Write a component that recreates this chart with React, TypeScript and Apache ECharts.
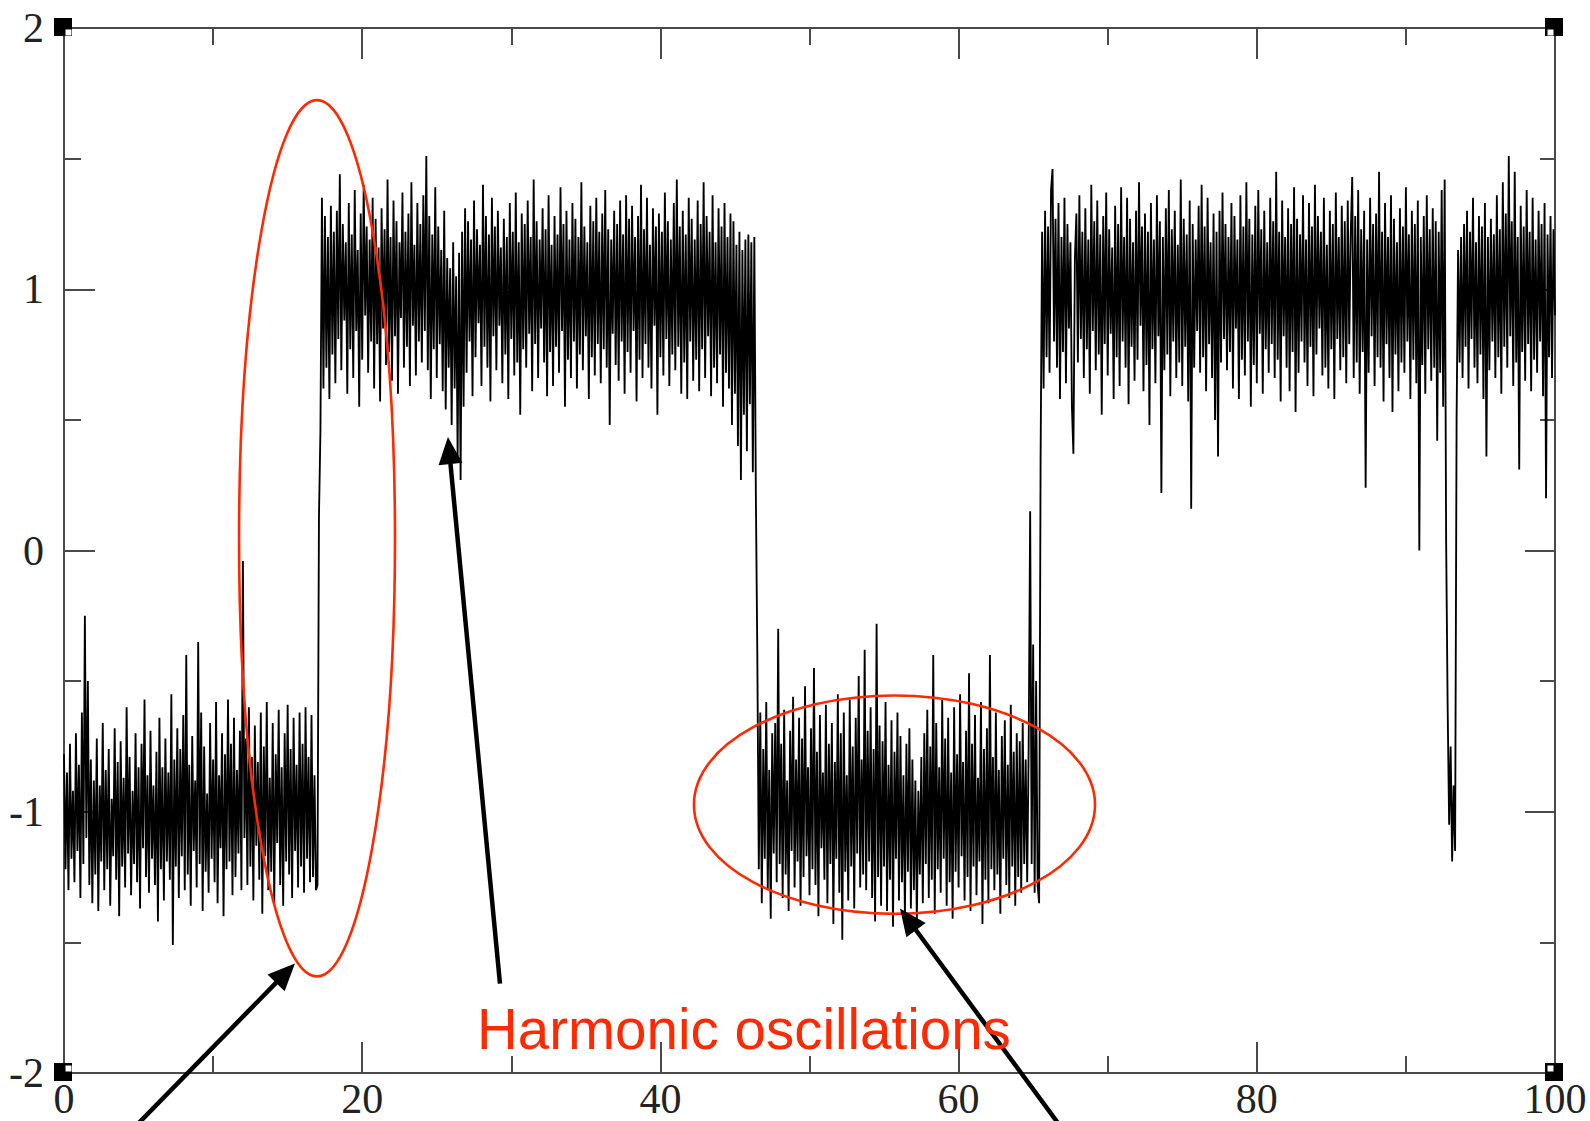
import React, { useEffect, useRef } from "react";
import * as echarts from "echarts";

// ---- data (sampled every 0.1 time units) ----
const SAMPLE_STEP = 0.1;
const segmentStarts = [0, 17.1, 46.5, 65.5, 92.7, 93.5];

const lowStateA = [
  -0.78, -1.22, -0.85, -1.3, -0.74, -1.18, -0.92, -1.27, -0.7, -1.15,
  -0.82, -1.33, -0.62, -1.2, -0.25, -1.1, -0.5, -1.28, -0.8, -1.35,
  -0.88, -1.24, -0.72, -1.38, -0.9, -1.19, -0.66, -1.3, -0.84, -1.22,
  -0.76, -1.36, -0.95, -1.17, -0.68, -1.26, -0.81, -1.4, -0.73, -1.21,
  -0.87, -1.29, -0.6, -1.16, -0.79, -1.32, -0.92, -1.2, -0.7, -1.27,
  -0.83, -1.37, -0.74, -1.14, -0.57, -1.25, -0.86, -1.31, -0.69, -1.18,
  -0.9, -1.28, -0.77, -1.42, -0.64, -1.22, -0.83, -1.34, -0.72, -1.19,
  -0.85, -1.26, -0.55, -1.51, -0.8, -1.21, -0.68, -1.33, -0.76, -1.17,
  -0.63, -1.3, -0.4, -1.24, -0.82, -1.36, -0.71, -1.15, -0.88, -1.29,
  -0.35, -1.2, -0.62, -1.38, -0.75, -1.23, -0.93, -1.31, -0.66, -1.18,
  -0.8, -1.27, -0.58, -1.35, -0.86, -1.14, -0.7, -1.4, -0.78, -1.22,
  -0.57, -1.19, -0.74, -1.32, -0.64, -1.25, -0.84, -1.16, -0.69, -1.3,
  -0.04, -1.1, -0.72, -1.28, -0.6, -1.21, -0.79, -1.34, -0.67, -1.13,
  -0.81, -1.26, -0.62, -1.39, -0.75, -1.17, -0.58, -1.3, -0.87, -1.23,
  -0.66, -1.35, -0.78, -1.12, -0.61, -1.28, -0.83, -1.36, -0.7, -1.19,
  -0.59, -1.24, -0.76, -1.33, -0.64, -1.15, -0.82, -1.29, -0.62, -1.21,
  -0.74, -1.31, -0.6, -1.18, -0.79, -1.27, -0.63, -1.25, -0.86, -1.3,
  -1.28,
];

const highStateA = [
  0.13, 0.46, 1.35, 0.62, 1.28, 0.7, 1.2, 0.58, 1.32,
  0.75, 1.22, 0.64, 1.3, 0.81, 1.44, 0.69, 1.25, 0.88, 1.18,
  0.6, 1.33, 0.77, 1.21, 0.66, 1.38, 0.84, 1.15, 0.55, 1.29,
  0.73, 1.4, 0.9, 1.24, 0.68, 1.19, 0.8, 1.35, 0.62, 1.27,
  0.79, 1.16, 0.57, 1.31, 0.85, 1.23, 0.71, 1.42, 0.76, 1.2,
  0.65, 1.34, 0.82, 1.26, 0.6, 1.18, 0.89, 1.37, 0.7, 1.22,
  0.78, 1.29, 0.63, 1.41, 0.86, 1.17, 0.67, 1.33, 0.8, 1.25,
  0.72, 1.36, 0.84, 1.51, 0.69, 1.28, 0.58, 1.21, 0.77, 1.39,
  0.66, 1.24, 0.79, 1.15, 0.61, 1.3, 0.54, 1.12, 0.7, 1.08,
  0.48, 1.18, 0.62, 1.05, 0.36, 1.14, 0.27, 1.22, 0.55, 1.31,
  0.68, 1.26, 0.8, 1.19, 0.59, 1.34, 0.74, 1.23, 0.87, 1.17,
  0.63, 1.4, 0.78, 1.28, 0.7, 1.21, 0.57, 1.35, 0.82, 1.24,
  0.69, 1.3, 0.86, 1.16, 0.64, 1.27, 0.75, 1.2, 0.58, 1.33,
  0.81, 1.22, 0.67, 1.37, 0.72, 1.18, 0.52, 1.29, 0.77, 1.25,
  0.7, 1.34, 0.83, 1.2, 0.61, 1.42, 0.79, 1.26, 0.66, 1.19,
  0.85, 1.31, 0.72, 1.23, 0.59, 1.36, 0.76, 1.17, 0.63, 1.28,
  0.78, 1.21, 0.68, 1.39, 0.84, 1.25, 0.55, 1.3, 0.73, 1.19,
  0.66, 1.33, 0.8, 1.27, 0.62, 1.2, 0.75, 1.41, 0.69, 1.24,
  0.82, 1.18, 0.58, 1.32, 0.74, 1.26, 0.67, 1.35, 0.79, 1.22,
  0.64, 1.29, 0.77, 1.38, 0.7, 1.23, 0.48, 1.19, 0.83, 1.3,
  0.71, 1.25, 0.65, 1.34, 0.8, 1.21, 0.6, 1.36, 0.76, 1.27,
  0.68, 1.32, 0.84, 1.2, 0.57, 1.28, 0.73, 1.4, 0.66, 1.23,
  0.79, 1.35, 0.7, 1.17, 0.62, 1.31, 0.86, 1.24, 0.52, 1.29,
  0.74, 1.22, 0.67, 1.37, 0.81, 1.26, 0.63, 1.19, 0.75, 1.33,
  0.69, 1.42, 0.78, 1.24, 0.6, 1.3, 0.72, 1.21, 0.58, 1.35,
  0.8, 1.27, 0.65, 1.19, 0.73, 1.34, 0.61, 1.25, 0.77, 1.41,
  0.66, 1.28, 0.82, 1.22, 0.59, 1.36, 0.7, 1.18, 0.64, 1.31,
  0.75, 1.24, 0.55, 1.33, 0.68, 1.2, 0.62, 1.29, 0.48, 1.26,
  0.6, 1.17, 0.4, 1.22, 0.27, 1.15, 0.52, 1.19, 0.38, 1.21,
  0.56, 1.18, 0.3, 1.2, 0.23,
];

const lowStateB = [
  -0.4, -1.22, -0.62, -1.35, -0.76,
  -1.18, -0.58, -1.3, -0.84, -1.41, -0.7, -1.16, -0.66, -1.27, -0.3,
  -1.2, -0.74, -1.33, -0.61, -1.24, -0.88, -1.38, -0.69, -1.15, -0.56,
  -1.29, -0.8, -1.19, -0.64, -1.36, -0.72, -1.25, -0.52, -1.17, -0.83,
  -1.32, -0.68, -1.22, -0.45, -1.28, -0.77, -1.4, -0.63, -1.14, -0.85,
  -1.26, -0.59, -1.35, -0.74, -1.2, -0.66, -1.43, -0.81, -1.18, -0.55,
  -1.31, -0.7, -1.49, -0.62, -1.23, -0.86, -1.34, -0.57, -1.21, -0.75,
  -1.37, -0.64, -1.16, -0.48, -1.29, -0.8, -1.24, -0.38, -1.3, -0.69,
  -1.19, -0.6, -1.33, -0.76, -1.42, -0.28, -1.25, -0.67, -1.36, -0.73,
  -1.21, -0.58, -1.38, -0.82, -1.26, -0.65, -1.44, -0.77, -1.18, -0.62,
  -1.34, -0.71, -1.27, -0.86, -1.4, -0.74, -1.23, -0.68, -1.37, -0.8,
  -1.3, -0.88, -1.42, -0.92, -1.24, -0.79, -1.35, -0.7, -1.2, -0.61,
  -1.33, -0.75, -1.26, -0.4, -1.39, -0.66, -1.22, -0.83, -1.31, -0.57,
  -1.18, -0.72, -1.36, -0.64, -1.27, -0.85, -1.41, -0.6, -1.23, -0.78,
  -1.29, -0.55, -1.17, -0.81, -1.34, -0.69, -1.25, -0.47, -1.38, -0.74,
  -1.21, -0.63, -1.32, -0.87, -1.19, -0.58, -1.43, -0.76, -1.26, -0.68,
  -1.35, -0.4, -1.22, -0.79, -1.3, -0.62, -1.24, -0.84, -1.39, -0.71,
  -1.18, -0.65, -1.28, -0.82, -1.33, -0.59, -1.21, -0.77, -1.36, -0.7,
  -1.25, -0.73, -1.31, -0.66, -1.2, -0.8, -1.27, -0.75, 0.15, -1.2,
  -0.36, -1.31, -0.5, -1.28, -1.35,
];

const highStateB = [
  0.36, 1.22, 0.62, 1.3, 0.74,
  1.24, 0.68, 1.38, 1.46, 0.8, 1.27, 0.7, 1.33, 0.58, 1.2,
  0.76, 1.35, 0.64, 1.25, 0.85, 1.18, 0.55, 0.37, 1.12, 1.29,
  0.72, 1.36, 0.81, 1.22, 0.66, 1.31, 0.77, 1.19, 0.6, 1.4,
  0.84, 1.26, 0.69, 1.34, 0.75, 1.21, 0.52, 1.28, 0.79, 1.37,
  0.67, 1.23, 0.83, 1.16, 0.58, 1.32, 0.74, 1.25, 0.63, 1.39,
  0.8, 1.2, 0.7, 1.35, 0.56, 1.27, 0.78, 1.18, 0.65, 1.3,
  0.73, 1.41, 0.86, 1.24, 0.61, 1.29, 0.71, 1.22, 0.48, 1.33,
  0.77, 1.19, 0.64, 1.36, 0.82, 1.26, 0.22, 1.2, 0.69, 1.31,
  0.75, 1.38, 0.59, 1.23, 0.8, 1.3, 0.66, 1.17, 0.72, 1.42,
  0.63, 1.27, 0.78, 1.21, 0.57, 1.34, 0.16, 1.25, 0.7, 1.19,
  0.84, 1.32, 0.68, 1.4, 0.74, 1.24, 0.61, 1.35, 0.79, 1.18,
  0.66, 1.29, 0.5, 1.22, 0.36, 1.3, 0.72, 1.37, 0.81, 1.25,
  0.69, 1.2, 0.76, 1.33, 0.62, 1.28, 0.85, 1.19, 0.58, 1.36,
  0.73, 1.24, 0.67, 1.41, 0.8, 1.27, 0.55, 1.21, 0.71, 1.32,
  0.64, 1.38, 0.83, 1.23, 0.6, 1.3, 0.77, 1.18, 0.68, 1.35,
  0.79, 1.26, 0.66, 1.45, 0.73, 1.22, 0.57, 1.34, 0.82, 1.2,
  0.7, 1.31, 0.61, 1.25, 0.76, 1.39, 0.53, 1.27, 0.68, 1.21,
  0.8, 1.36, 0.72, 1.19, 0.63, 1.33, 0.78, 1.24, 0.59, 1.4,
  0.75, 1.28, 0.85, 1.22, 0.67, 1.35, 0.7, 1.17, 0.62, 1.3,
  0.77, 1.25, 0.58, 1.37, 0.81, 1.2, 0.69, 1.32, 0.74, 1.26,
  0.64, 1.34, 0.79, 1.21, 1.43, 0.66, 1.28, 0.72, 1.38, 0.6,
  1.23, 0.76, 1.3, 0.24, 1.19, 0.68, 1.35, 0.82, 1.25, 0.63,
  1.29, 0.74, 1.45, 0.7, 1.22, 0.57, 1.33, 0.79, 1.2, 0.66,
  1.36, 0.53, 1.27, 0.75, 1.18, 0.61, 1.31, 0.72, 1.24, 0.68,
  1.39, 0.8, 1.21, 0.58, 1.3, 0.73, 1.25, 0.64, 1.34, 0.0,
  1.2, 0.71, 1.28, 0.6, 1.36, 0.77, 1.23, 0.65, 1.31, 0.7,
  1.26, 0.42, 1.22, 0.68, 1.38, 0.55, 1.42,
];

const dipValues = [0.03, -0.6, -1.05, -0.75, -1.19, -0.9, -1.15, 0.5];

const highStateC = [
  1.15, 0.72, 1.2, 0.66, 1.25,
  0.78, 1.3, 0.62, 1.22, 0.81, 1.35, 0.7, 1.18, 0.64, 1.28,
  0.75, 1.24, 0.58, 1.33, 0.36, 1.2, 0.69, 1.27, 0.8, 1.21,
  0.66, 1.36, 0.74, 1.23, 0.6, 1.41, 0.78, 1.29, 0.7, 1.51,
  0.82, 1.26, 0.63, 1.45, 0.72, 1.2, 0.31, 1.32, 0.76, 1.24,
  0.65, 1.38, 0.79, 1.22, 0.61, 1.35, 0.73, 1.19, 0.68, 1.3,
  0.8, 1.25, 0.59, 1.33, 0.2, 1.21, 0.74, 1.28, 0.66, 1.23,
  0.9,
];

const xTickStep = 20;
const yTickStep = 1;
const annotationLabel = "Harmonic oscillations";

// ---- annotations (data units) ----
const ellipseTransition = { cx: 16.97, cy: 0.047, rx: 5.23, ry: 1.677 };
const ellipseLowState = { cx: 55.7, cy: -0.973, rx: 13.45, ry: 0.418 };
const arrows = [
  { from: [4.18, -2.24], to: [15.49, -1.581] },
  { from: [29.24, -1.658], to: [25.75, 0.434] },
  { from: [67.29, -2.24], to: [56.07, -1.37] },
];
const labelAnchor = [27.7, -1.834];

const RED = "#ff2a00";
const AXIS = "#4a4a4a";

function buildPoints(): [number, number][] {
  const segments = [lowStateA, highStateA, lowStateB, highStateB, dipValues, highStateC];
  const pts: [number, number][] = [];
  segments.forEach((seg, s) => {
    seg.forEach((v, j) => {
      pts.push([Math.round((segmentStarts[s] + j * SAMPLE_STEP) * 100) / 100, v]);
    });
  });
  return pts;
}

function axisCommon(showLabel: boolean) {
  return {
    type: "value" as const,
    axisLine: { show: true, onZero: false, lineStyle: { color: AXIS, width: 2 } },
    axisTick: { show: true, inside: true, length: 31, lineStyle: { color: AXIS, width: 2 } },
    minorTick: { show: true, splitNumber: 2, length: 17, lineStyle: { color: AXIS, width: 2 } },
    splitLine: { show: false },
    minorSplitLine: { show: false },
    axisLabel: {
      show: showLabel,
      fontFamily: "Liberation Serif, Times New Roman, serif",
      fontSize: 42,
      color: "#222222",
    },
  };
}

export default function App() {
  const ref = useRef<HTMLDivElement>(null);

  useEffect(() => {
    if (!ref.current) return;
    const chart = echarts.init(ref.current, undefined, { renderer: "svg" });
    const bx = axisCommon(true);
    const tx = axisCommon(false);
    const ly = axisCommon(true);
    const ry = axisCommon(false);
    chart.setOption({
      animation: false,
      backgroundColor: "#ffffff",
      grid: { left: 64, right: 35, top: 28, bottom: 48, containLabel: false },
      xAxis: [
        {
          ...bx,
          position: "bottom",
          min: 0,
          max: 100,
          interval: xTickStep,
          axisLabel: { ...bx.axisLabel, margin: 9, lineHeight: 34 },
        },
        { ...tx, position: "top", min: 0, max: 100, interval: xTickStep },
      ],
      yAxis: [
        { ...ly, position: "left", min: -2, max: 2, interval: yTickStep, axisLabel: { ...ly.axisLabel, margin: 20, lineHeight: 34 } },
        { ...ry, position: "right", min: -2, max: 2, interval: yTickStep, axisTick: { ...ry.axisTick, length: 30 }, minorTick: { ...ry.minorTick, length: 15 } },
      ],
      series: [
        {
          type: "line",
          xAxisIndex: 0,
          yAxisIndex: 0,
          data: buildPoints(),
          showSymbol: false,
          symbol: "none",
          silent: true,
          lineStyle: { color: "#000000", width: 1.85, join: "bevel" },
          z: 2,
        },
      ],
    });

    const toPx = (p: number[]) => chart.convertToPixel({ seriesIndex: 0 }, p) as number[];
    const graphics: any[] = [];

    [ellipseTransition, ellipseLowState].forEach((e) => {
      const c = toPx([e.cx, e.cy]);
      const rxp = Math.abs(toPx([e.cx + e.rx, e.cy])[0] - c[0]);
      const ryp = Math.abs(toPx([e.cx, e.cy + e.ry])[1] - c[1]);
      graphics.push({
        type: "ellipse",
        z: 100,
        silent: true,
        shape: { cx: c[0], cy: c[1], rx: rxp, ry: ryp },
        style: { fill: "none", stroke: RED, lineWidth: 2.6 },
      });
    });

    arrows.forEach((a) => {
      const t = toPx(a.from);
      const p = toPx(a.to);
      const dx = p[0] - t[0];
      const dy = p[1] - t[1];
      const len = Math.sqrt(dx * dx + dy * dy);
      const ux = dx / len;
      const uy = dy / len;
      const headL = 27;
      const headW = 24;
      const bxp = p[0] - ux * headL;
      const byp = p[1] - uy * headL;
      const nx = -uy;
      const ny = ux;
      graphics.push({
        type: "line",
        z: 101,
        silent: true,
        shape: { x1: t[0], y1: t[1], x2: bxp + ux * 3, y2: byp + uy * 3 },
        style: { stroke: "#000000", lineWidth: 4.5 },
      });
      graphics.push({
        type: "polygon",
        z: 101,
        silent: true,
        shape: {
          points: [
            [p[0], p[1]],
            [bxp + (nx * headW) / 2, byp + (ny * headW) / 2],
            [bxp - (nx * headW) / 2, byp - (ny * headW) / 2],
          ],
        },
        style: { fill: "#000000" },
      });
    });

    const lp = toPx(labelAnchor);
    graphics.push({
      type: "text",
      z: 102,
      silent: true,
      x: lp[0],
      y: lp[1],
      style: {
        text: annotationLabel,
        fontFamily: "Liberation Sans, Arial, Helvetica, sans-serif",
        fontSize: 56.5,
        fill: RED,
        align: "left",
        verticalAlign: "middle",
      },
    });

    // corner markers
    const corners: { p: number[]; sx: number; sy: number }[] = [
      { p: [0, 2], sx: 1, sy: 1 },
      { p: [100, 2], sx: -1, sy: 1 },
      { p: [0, -2], sx: 1, sy: -1 },
      { p: [100, -2], sx: -1, sy: -1 },
    ];
    corners.forEach((c) => {
      const q = toPx(c.p);
      graphics.push({
        type: "rect",
        z: 103,
        silent: true,
        shape: { x: q[0] - 10, y: q[1] - 10, width: 18, height: 18 },
        style: { fill: "#000000" },
      });
      graphics.push({
        type: "rect",
        z: 104,
        silent: true,
        shape: {
          x: c.sx > 0 ? q[0] + 1.5 : q[0] - 7.5,
          y: c.sy > 0 ? q[1] + 1.5 : q[1] - 7.5,
          width: 6,
          height: 6,
        },
        style: { fill: "#ffffff" },
      });
    });

    chart.setOption({ graphic: graphics });

    return () => {
      chart.dispose();
    };
  }, []);

  return (
    <div
      ref={ref}
      style={{ position: "absolute", left: 0, top: 0, width: 1590, height: 1121, background: "#fff" }}
    />
  );
}
